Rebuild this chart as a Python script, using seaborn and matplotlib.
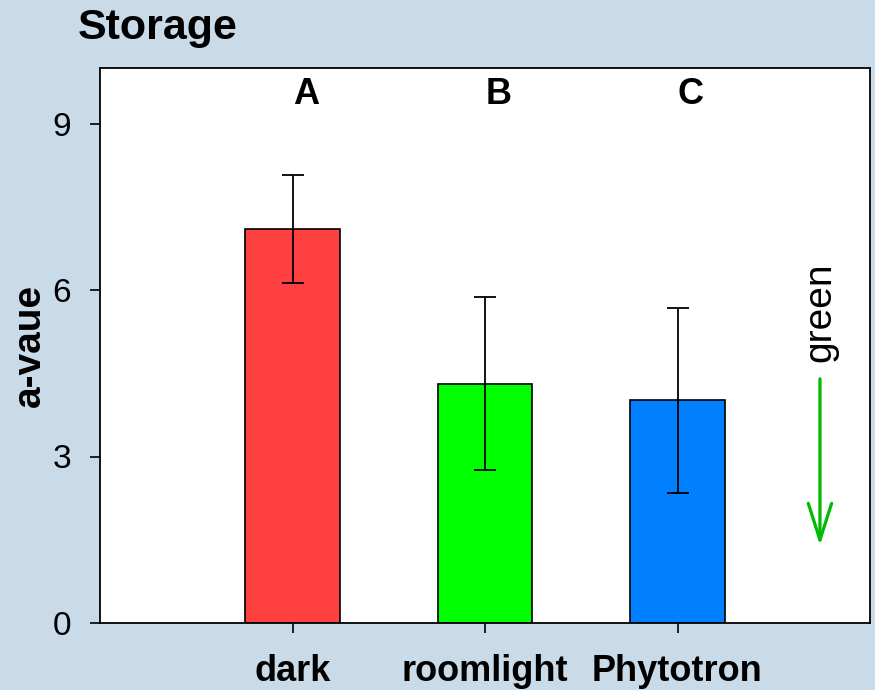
import matplotlib
matplotlib.use("Agg")
import matplotlib.pyplot as plt
import seaborn as sns
import pandas as pd
import numpy as np

categories = ["dark", "roomlight", "Phytotron"]
values = [7.10, 4.31, 4.01]
errors = [0.97, 1.56, 1.67]
letters = ["A", "B", "C"]
colors = ["#FF4040", "#00FF00", "#0080FF"]
yticks = [0, 3, 6, 9]

sns.set_theme(style="white")
plt.rcParams['font.family'] = ['Liberation Sans', 'DejaVu Sans']
plt.rcParams['text.color'] = 'black'
plt.rcParams['axes.labelcolor'] = 'black'
plt.rcParams['xtick.color'] = 'black'
plt.rcParams['ytick.color'] = 'black'

bg = "#C9DAE8"
fig = plt.figure(figsize=(8.75, 6.9), dpi=100, facecolor=bg)
ax = fig.add_axes([100/875, 67/690, 770/875, (623-68)/690])
ax.set_facecolor("white")

df = pd.DataFrame({"cat": categories, "val": values})
sns.barplot(data=df, x="cat", y="val", hue="cat", palette=colors, legend=False,
            width=0.49, edgecolor="black", linewidth=1.2, ax=ax, errorbar=None,
            saturation=1)
xpos = np.arange(len(categories))
ax.errorbar(xpos, values, yerr=errors, fmt="none", ecolor="black",
            elinewidth=1.3, capsize=8, capthick=1.3)

for x, l in zip(xpos, letters):
    ax.text(x + 0.07, 9.53, l, ha="center", va="center", fontsize=26, fontweight="bold")

ax.set_xlim(-1, 3)
ax.set_ylim(0, 10)
ax.set_yticks(yticks)
ax.set_xlabel("")
ax.set_ylabel("a-vaue", fontsize=28, fontweight="bold", labelpad=3)
ax.tick_params(axis="y", labelsize=24, length=7, width=1.2, direction="out", pad=14, left=True)
ax.tick_params(axis="x", labelsize=26, length=7, width=1.2, direction="out", pad=15, bottom=True)
for lab in ax.get_xticklabels():
    lab.set_fontweight("bold")
for s in ax.spines.values():
    s.set_color("black")
    s.set_linewidth(1.3)

# green arrow annotation
ax.annotate("", xy=(2.74, 1.35), xytext=(2.74, 4.45),
            arrowprops=dict(arrowstyle="->,head_length=2.2,head_width=0.7", color="#00BB00", lw=2.3))
ax.text(2.74, 5.6, "green", rotation=90, ha="center", va="center", fontsize=28)

fig.text(78/875, 1 - 28/690, "Storage", ha="left", va="center", fontsize=31, fontweight="bold")

fig.savefig("out.png", dpi=100, facecolor=bg)
